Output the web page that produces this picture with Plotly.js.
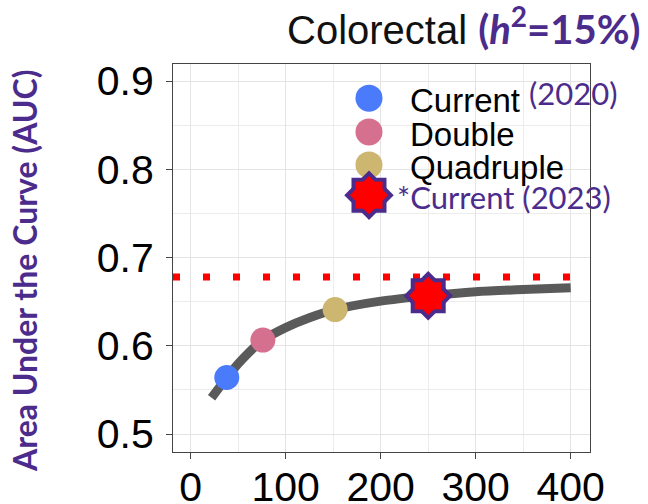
<!DOCTYPE html>
<html>
<head>
<meta charset="utf-8">
<script src="https://cdn.plot.ly/plotly-3.0.1.min.js"></script>
<style>
  html, body { margin: 0; padding: 0; background: #ffffff; }
  #chart { width: 648px; height: 504px; }
</style>
</head>
<body>
<div id="chart"></div>
<script>
// Predicted AUC as a function of GWAS sample size (thousands of cases)
const curveSize = [22, 30, 38, 50, 60, 76, 100, 125, 152, 200, 250, 300, 350, 400];
const curveAUC  = [0.541, 0.5525, 0.564, 0.5795, 0.591, 0.6064, 0.6206, 0.6318, 0.641, 0.6506, 0.6566, 0.6612, 0.6637, 0.6657];

// Scenario points on the curve
const scenarioNames  = ['Current', 'Double', 'Quadruple'];
const scenarioSize   = [38, 76, 152];
const scenarioAUC    = [0.564, 0.6064, 0.641];
const scenarioColors = ['#4a7bfb', '#d6708f', '#cdb66f'];

// Current (2023) study size
const current2023Size = [250];
const current2023AUC  = [0.6566];

// Maximum achievable AUC given heritability
const maxAUC = 0.678;

// Axis extents and ticks
const xRange = [-18.6, 420.3];
const yRange = [0.4796, 0.9193];
const xTicks = [0, 100, 200, 300, 400];
const yTicks = [0.5, 0.6, 0.7, 0.8, 0.9];

const purple = '#4b2c8c';
const blackFont = 'Liberation Sans, Arial, sans-serif';
const purpleFont = 'Lato, Noto Sans, sans-serif';

// legend key positions (fractions of the plot area)
const keyX = 0.470;
const keyRowsY = [0.912, 0.825, 0.740];
const keyStarY = [0.662];

// eight-pointed star built from two squares: outline layer, then fill layer
function starLayers(xs, ys, axes) {
  const out = [];
  [[purple, 8], ['#ff0000', 0]].forEach(([col, lw]) => {
    [0, 45].forEach(angle => {
      out.push(Object.assign({
        x: xs, y: ys, type: 'scatter', mode: 'markers',
        marker: { symbol: 'square', angle: angle, size: 27, color: col,
                  line: { color: col, width: lw } },
        showlegend: false, cliponaxis: false, hoverinfo: 'skip'
      }, axes));
    });
  });
  return out;
}

const traces = [
  // ceiling AUC, dotted across the full width of the panel
  {
    x: xRange, y: xRange.map(() => maxAUC), type: 'scatter', mode: 'lines',
    line: { color: '#ff0000', width: 7, dash: '7px,23px' },
    hoverinfo: 'skip', showlegend: false
  },
  {
    x: curveSize, y: curveAUC, type: 'scatter', mode: 'lines',
    line: { color: '#5a5a5a', width: 9, shape: 'spline', smoothing: 0.8 },
    hoverinfo: 'skip', showlegend: false
  },
  {
    x: scenarioSize, y: scenarioAUC, type: 'scatter', mode: 'markers',
    marker: { color: scenarioColors, size: 25, line: { width: 0 } },
    text: scenarioNames, showlegend: false, cliponaxis: false
  }
].concat(starLayers(current2023Size, current2023AUC, {}))
 .concat([
  // legend keys
  {
    x: keyRowsY.map(() => keyX), y: keyRowsY, xaxis: 'x2', yaxis: 'y2',
    type: 'scatter', mode: 'markers',
    marker: { color: scenarioColors, size: 27 }, showlegend: false, cliponaxis: false, hoverinfo: 'skip'
  }
 ])
 .concat(starLayers([keyX], keyStarY, { xaxis: 'x2', yaxis: 'y2' }));

const axisCommon = {
  showline: true, mirror: true, linecolor: '#444444', linewidth: 1,
  ticks: 'outside', ticklen: 6, tickcolor: '#444444', tickwidth: 1,
  showgrid: true, gridcolor: '#e4e4e4', gridwidth: 1,
  zeroline: false,
  tickfont: { family: blackFont, size: 41, color: '#000000' }
};

const layout = {
  width: 648, height: 504,
  margin: { l: 173, r: 58, t: 64, b: 52 },
  paper_bgcolor: '#ffffff', plot_bgcolor: '#ffffff',
  showlegend: false,
  title: {
    text: 'Colorectal <span style="color:' + purple + ';font-family:Lato;font-weight:bold">(<i>h</i><sup>2</sup>=15%)</span>',
    font: { family: blackFont, size: 40, color: '#111111' },
    xref: 'container', x: 287 / 648, xanchor: 'left',
    yref: 'container', y: 1 - 30 / 504, yanchor: 'middle'
  },
  xaxis: Object.assign({}, axisCommon, {
    range: xRange, tickvals: xTicks, ticktext: xTicks.map(String),
    ticklabelstandoff: -7,
    minor: { dtick: 50, tick0: 0, showgrid: true, gridcolor: '#ececec', gridwidth: 1, ticks: '' }
  }),
  yaxis: Object.assign({}, axisCommon, {
    range: yRange, tickvals: yTicks, ticktext: yTicks.map(v => v.toFixed(1)),
    ticklabelstandoff: 4,
    minor: { dtick: 0.05, tick0: 0.5, showgrid: true, gridcolor: '#ececec', gridwidth: 1, ticks: '' }
  }),
  xaxis2: { overlaying: 'x', range: [0, 1], visible: false, fixedrange: true },
  yaxis2: { overlaying: 'y', range: [0, 1], visible: false, fixedrange: true },
  annotations: [
    {
      text: '<b>Area Under the Curve (AUC)</b>', textangle: -90,
      xref: 'paper', yref: 'paper', x: -0.355, y: 0.4665, xanchor: 'center', yanchor: 'middle',
      showarrow: false, font: { family: purpleFont, size: 32, color: purple }
    },
    {
      text: 'Current', xref: 'paper', yref: 'paper', x: 0.5635, y: 0.905, xanchor: 'left', yanchor: 'middle',
      showarrow: false, font: { family: blackFont, size: 33, color: '#000000' }
    },
    {
      text: '(2020)', xref: 'paper', yref: 'paper', x: 0.849, y: 0.925, xanchor: 'left', yanchor: 'middle',
      showarrow: false, font: { family: purpleFont, size: 31, color: purple }
    },
    {
      text: 'Double', xref: 'paper', yref: 'paper', x: 0.5635, y: 0.818, xanchor: 'left', yanchor: 'middle',
      showarrow: false, font: { family: blackFont, size: 33, color: '#000000' }
    },
    {
      text: 'Quadruple', xref: 'paper', yref: 'paper', x: 0.5635, y: 0.733, xanchor: 'left', yanchor: 'middle',
      showarrow: false, font: { family: blackFont, size: 33, color: '#000000' }
    },
    {
      text: '*Current (2023)', xref: 'paper', yref: 'paper', x: 0.532, y: 0.658, xanchor: 'left', yanchor: 'middle',
      showarrow: false, font: { family: purpleFont, size: 31, color: purple }
    }
  ]
};

Plotly.newPlot('chart', traces, layout, { staticPlot: true, displayModeBar: false });
</script>
</body>
</html>
